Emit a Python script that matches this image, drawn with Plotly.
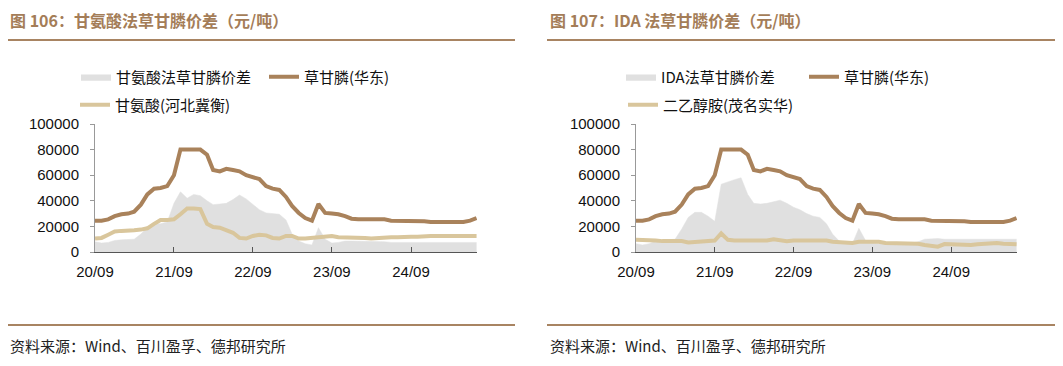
import pandas as pd
import plotly.graph_objects as go

# ---------------- data (monthly, 2020-09 .. 2025-07) ----------------
dates = pd.date_range("2020-09-01", "2025-07-01", freq="MS").strftime("%Y-%m-%d").tolist()

glyphosate = [24500, 24500, 25500, 28000, 29500, 30000, 31500, 37000, 45000, 49500,
              50000, 51500, 60000, 80000, 80000, 80000, 80000, 76000, 64000, 63000,
              65000, 64000, 63000, 60000, 58500, 57000, 51500, 49500, 48500, 43000,
              36000, 30500, 26500, 24500, 37500, 30500, 30000, 29500, 28000, 26000,
              25500, 25500, 25500, 26000, 25500, 24500, 24500, 24500, 24500, 24500,
              24000, 23500, 23500, 23000, 23000, 23000, 23500, 24500, 26500]

glycine = [10500, 11000, 13500, 16000, 16500, 16500, 17000, 17500, 18500, 22000,
           25000, 25000, 25500, 29500, 34000, 34000, 33500, 22000, 19500, 19000,
           17000, 15000, 11000, 10500, 12500, 13500, 13000, 11000, 10500, 12500,
           12500, 10500, 10500, 11000, 11500, 11500, 12500, 11500, 11500, 11000,
           11000, 11000, 10500, 11000, 11000, 11500, 11500, 12000, 12000, 12000,
           12500, 12500, 12500, 12500, 12500, 12500, 12500, 12500, 12500]

glycine_spread = [8000, 7000, 7500, 9000, 9500, 9500, 10000, 14000, 19000, 22500,
                  22000, 23500, 38000, 47000, 42000, 45000, 44000, 40000, 37000, 37500,
                  38000, 41000, 44500, 41500, 37000, 33000, 30500, 30000, 29500, 25000,
                  14000, 8500, 6500, 5500, 19000, 10000, 7000, 7500, 8500, 8500,
                  8500, 8500, 8500, 8000, 8000, 7500, 7500, 7500, 7500, 7500,
                  7500, 7500, 7500, 7500, 7500, 7500, 7500, 7500, 7500]

dea = [9500, 9500, 9500, 9000, 8500, 8500, 8500, 8500, 7500, 8000,
       8000, 8500, 9000, 14500, 9500, 9000, 9000, 9000, 9000, 9500,
       9000, 10000, 9500, 8500, 9000, 9000, 9000, 9000, 9000, 9000,
       8000, 7500, 7000, 7000, 8000, 8000, 8000, 8000, 7000, 6800,
       6800, 6800, 6800, 6500, 5500, 4500, 4200, 6200, 6000, 6000,
       5500, 5500, 6000, 6500, 6500, 7000, 6500, 6500, 6000]

ida_spread = [6500, 5500, 6500, 8500, 9000, 9500, 10000, 18000, 27000, 31000,
              31000, 28000, 24000, 53000, 55000, 56500, 58000, 45000, 38000, 37500,
              38000, 39500, 40500, 38000, 35000, 33000, 30000, 28000, 27000, 22000,
              14000, 8500, 6500, 6500, 18500, 9000, 7000, 6500, 6000, 5500,
              5500, 6000, 7000, 8000, 10000, 10500, 10500, 10000, 10000, 10000,
              10000, 10000, 10000, 10000, 10000, 10000, 10000, 10000, 10000]

y_ticks = [0, 20000, 40000, 60000, 80000, 100000]
x_range = ["2020-09-01", "2025-07-03"]

titles = ["图 106：甘氨酸法草甘膦价差（元/吨）", "图 107：IDA 法草甘膦价差（元/吨）"]
source = "资料来源：Wind、百川盈孚、德邦研究所"
names_left = ["甘氨酸法草甘膦价差", "草甘膦(华东)", "甘氨酸(河北冀衡)"]
names_right = ["IDA法草甘膦价差", "草甘膦(华东)", "二乙醇胺(茂名实华)"]

# ---------------- styling ----------------
OFF = 8                      # page body margin of the exported html
W, H = 1063 - OFF, 366 - OFF
BROWN = "#a9825b"
TAN = "#d9c69c"
GRAY = "#e0e0e0"
TITLE_C = "#a47d58"
CJK = "Noto Sans CJK SC"
NUM = "Liberation Sans, Arial, sans-serif"

def px(x):
    return (x - OFF) / W

def py(y):
    return 1 - (y - OFF) / H

fig = go.Figure()

# left panel
fig.add_trace(go.Scatter(x=dates, y=glycine_spread, name=names_left[0], mode="lines",
                         fill="tozeroy", fillcolor=GRAY, line=dict(color=GRAY, width=0.5),
                         xaxis="x", yaxis="y", legend="legend", showlegend=True))
fig.add_trace(go.Scatter(x=dates, y=glyphosate, name=names_left[1], mode="lines",
                         line=dict(color=BROWN, width=4), xaxis="x", yaxis="y",
                         legend="legend2", showlegend=True))
fig.add_trace(go.Scatter(x=dates, y=glycine, name=names_left[2], mode="lines",
                         line=dict(color=TAN, width=4), xaxis="x", yaxis="y",
                         legend="legend3", showlegend=True))
# right panel
fig.add_trace(go.Scatter(x=dates, y=ida_spread, name=names_right[0], mode="lines",
                         fill="tozeroy", fillcolor=GRAY, line=dict(color=GRAY, width=0.5),
                         xaxis="x2", yaxis="y2", legend="legend4", showlegend=True))
fig.add_trace(go.Scatter(x=dates, y=glyphosate, name=names_right[1], mode="lines",
                         line=dict(color=BROWN, width=4), xaxis="x2", yaxis="y2",
                         legend="legend5", showlegend=True))
fig.add_trace(go.Scatter(x=dates, y=dea, name=names_right[2], mode="lines",
                         line=dict(color=TAN, width=4), xaxis="x2", yaxis="y2",
                         legend="legend6", showlegend=True))

ydom = [py(252), py(124)]
xaxis_common = dict(type="date", range=x_range, tick0="2020-09-01", dtick="M12",
                    tickformat="%y/%m", showgrid=False, showline=True, linecolor="#555555",
                    linewidth=1, ticks="inside", ticklen=5, tickcolor="#555555",
                    tickfont=dict(family=NUM, size=15, color="#111111"), zeroline=False,
                    ticklabelstandoff=6)
yaxis_common = dict(range=[0, 100000], tickvals=y_ticks, tickformat="d", showgrid=False,
                    showline=True, linecolor="#999999", linewidth=1, ticks="outside",
                    ticklen=4, tickcolor="#999999",
                    tickfont=dict(family=NUM, size=15, color="#111111"),
                    zeroline=False, domain=ydom, ticklabelstandoff=8)

fig.update_layout(
    width=W, height=H,
    showlegend=True,
    margin=dict(l=0, r=0, t=0, b=0, autoexpand=False),
    paper_bgcolor="white", plot_bgcolor="white",
    xaxis=dict(domain=[px(95), px(477)], anchor="y", **xaxis_common),
    yaxis=dict(anchor="x", **yaxis_common),
    xaxis2=dict(domain=[px(636), px(1017)], anchor="y2", **xaxis_common),
    yaxis2=dict(anchor="x2", **yaxis_common),
)

def leg(x, y):
    return dict(x=px(x), y=py(y), xanchor="left", yanchor="middle", orientation="h",
                bgcolor="rgba(0,0,0,0)", font=dict(family=CJK, size=15, color="#111111"),
                itemwidth=30, tracegroupgap=0, visible=True)

fig.update_layout(
    legend=leg(76, 77), legend2=leg(264, 77), legend3=leg(75, 105),
    legend4=leg(621, 77), legend5=leg(804, 77), legend6=leg(623, 105),
)

# titles, rules and source notes
for x0, x1, t in [(7, 515, titles[0]), (547, 1057, titles[1])]:
    fig.add_annotation(text="<b>" + t + "</b>", x=px(x0 + 1), y=py(20), xref="paper", yref="paper",
                       xanchor="left", yanchor="middle", showarrow=False,
                       font=dict(family=CJK, size=16, color=TITLE_C))
    fig.add_annotation(text=source, x=px(x0 + 1), y=py(345), xref="paper", yref="paper",
                       xanchor="left", yanchor="middle", showarrow=False,
                       font=dict(family=CJK, size=15, color="#222222"))
    for yy in (40, 325):
        fig.add_shape(type="line", xref="paper", yref="paper", x0=px(x0), x1=px(x1),
                      y0=py(yy), y1=py(yy), line=dict(color="#a88462", width=2))

fig.write_html("out.html")
